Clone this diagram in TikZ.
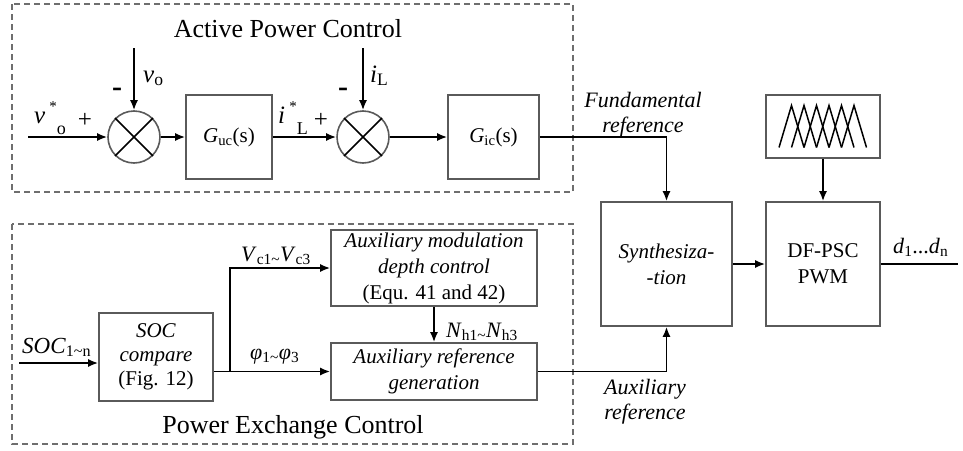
\documentclass[tikz,border=0pt]{standalone}
\usepackage{fontspec}
\setmainfont{Liberation Serif}
\usetikzlibrary{arrows.meta,calc}
\definecolor{boxgray}{HTML}{5A5A5A}
\definecolor{dashgray}{HTML}{6E6E6E}
\newcommand\bxf{\fontsize{21}{26}\selectfont}
\newcommand\lbf{\fontsize{22}{26}\selectfont}
\newcommand\bigf{\fontsize{25}{28}\selectfont}
\newcommand\ttlf{\fontsize{26}{30}\selectfont}
\newcommand\tld{\textasciitilde}
\begin{document}
\begin{tikzpicture}[x=1pt,y=-1pt,
  blk/.style={draw=boxgray, line width=1.6pt, inner sep=0pt, align=center, font=\bxf},
  sumc/.style={circle, draw=boxgray, line width=1.6pt, minimum size=52pt, inner sep=0pt},
  conn/.style={line width=1.8pt, -{Latex[length=10pt,width=8pt]}},
  wire/.style={line width=1.8pt},
  frame/.style={draw=dashgray, line width=1.4pt, dash pattern=on 6pt off 4pt},
  lbl/.style={font=\lbf, inner sep=0pt},
]
\useasboundingbox (0,0) rectangle (963,450);

% frames
\draw[frame] (12,4) rectangle (573,192);
\draw[frame] (12,224) rectangle (573,444);
\node[font=\ttlf, anchor=base, inner sep=0pt] (t1) at (288,37) {Active Power Control};
\node[font=\ttlf, anchor=base, inner sep=0pt] (t2) at (293,433) {Power Exchange Control};

% blocks
\node[sumc] (s1) at (134,137) {};
\node[blk, minimum width=86pt, minimum height=84pt] (guc) at (229,137) {\textit{G}\textsubscript{uc}(s)};
\node[sumc] (s2) at (363,137) {};
\node[blk, minimum width=91pt, minimum height=84pt] (gic) at (493.5,137) {\textit{G}\textsubscript{ic}(s)};
\node[blk, minimum width=131pt, minimum height=124pt] (syn) at (666.5,264) {\textit{Synthesiza-}\\\textit{-tion}};
\node[blk, minimum width=114pt, minimum height=124pt] (df) at (823,264) {DF-PSC\\PWM};
\node[blk, minimum width=114pt, minimum height=63pt] (car) at (823,126.5) {};
\node[blk, minimum width=114pt, minimum height=88pt, font=\fontsize{21}{24}\selectfont] (soc) at (156,357) {\textit{SOC}\\\textit{compare}\\(Fig. 12)};
\node[blk, minimum width=206pt, minimum height=76pt] (amd) at (434,268) {\textit{Auxiliary modulation}\\\textit{depth control}\\(Equ. 41 and 42)};
\node[blk, minimum width=206pt, minimum height=57pt] (arg) at (434,371.5) {\textit{Auxiliary reference}\\\textit{generation}};

% crosses in summing junctions
\draw[line width=1.6pt] (s1.north west) -- (s1.south east) (s1.north east) -- (s1.south west);
\draw[line width=1.6pt] (s2.north west) -- (s2.south east) (s2.north east) -- (s2.south west);

% carrier triangles
\begin{scope}[shift={(car.center)}]
\foreach \k in {0,...,5}
  \draw[line width=1.5pt] ({-44+12.5*\k},21) -- ({-31.5+12.5*\k},-21) -- ({-19+12.5*\k},21);
\end{scope}

% free ends
\coordinate (vin) at (28,137);
\coordinate (vo) at (134,48);
\coordinate (il) at (363,48);
\coordinate (out) at (958,264);
\coordinate (socin) at (19,363);
\coordinate (br) at (230,371.5);

% connectors
\draw[conn] (vin) -- (s1.west);
\draw[conn] (vo) -- (s1.north);
\draw[conn] (s1.east) -- (guc.west);
\draw[conn] (guc.east) -- (s2.west);
\draw[conn] (il) -- (s2.north);
\draw[conn] (s2.east) -- (gic.west);
\draw[conn] (gic.east) -| (syn.north);
\draw[conn] (car.south) -- (df.north);
\draw[conn] (syn.east) -- (df.west);
\draw[wire] (df.east) -- (out);
\draw[conn] (socin) -- (soc.west |- socin);
\draw[wire] (soc.east |- br) -- (br);
\draw[conn] (br) |- (amd.west);
\draw[conn] (br) -- (arg.west);
\draw[conn] (amd.south) -- (arg.north);
\draw[conn] (arg.east) -| (syn.south);

% labels
\node[lbl, anchor=base west, font=\bigf] (lvin) at (34,123) {\textit{v}\,\raisebox{12pt}{\fontsize{15}{15}\selectfont *}\raisebox{-11pt}{\fontsize{18}{18}\selectfont o}};
\node[lbl, anchor=base, font=\bigf] (p1) at (85,127) {+};
\node[lbl, anchor=base west, font=\bigf] (lil) at (278,123) {\textit{i}\,\raisebox{12pt}{\fontsize{15}{15}\selectfont *}\raisebox{-11pt}{\fontsize{18}{18}\selectfont L}};
\node[lbl, anchor=base, font=\bigf] (p2) at (321,127) {+};
\node[lbl, anchor=base west, font=\bigf] (lvo) at (143,82) {\textit{v}\textsubscript{o}};
\node[lbl, anchor=base west, font=\bigf] (lilt) at (370,82) {\textit{i}\textsubscript{L}};
\node[lbl, anchor=base, font=\bfseries\fontsize{30}{30}\selectfont] (m1) at (117,96) {-};
\node[lbl, anchor=base, font=\bfseries\fontsize{30}{30}\selectfont] (m2) at (343,96) {-};
\node[lbl, anchor=base west] (lvc) at (241,261) {\textit{V}\textsubscript{c1\tld}\textit{V}\textsubscript{c3}};
\node[lbl, anchor=base west] (lphi) at (250,359) {\textit{φ}\textsubscript{1\tld}\textit{φ}\textsubscript{3}};
\node[lbl, anchor=base west] (lnh) at (446,337) {\textit{N}\textsubscript{h1\tld}\textit{N}\textsubscript{h3}};
\node[lbl, anchor=base west, font=\fontsize{23}{26}\selectfont] (lsoc) at (22,353) {\textit{SOC}\textsubscript{1\tld n}};
\node[lbl, anchor=base west] (ld) at (893,253) {\textit{d}\textsubscript{1}...\textit{d}\textsubscript{n}};
\node[lbl, anchor=base] (lf1) at (643,107) {\textit{Fundamental}};
\node[lbl, anchor=base] (lf2) at (643,132) {\textit{reference}};
\node[lbl, anchor=base] (la1) at (645,394) {\textit{Auxiliary}};
\node[lbl, anchor=base] (la2) at (645,419) {\textit{reference}};
\end{tikzpicture}
\end{document}
